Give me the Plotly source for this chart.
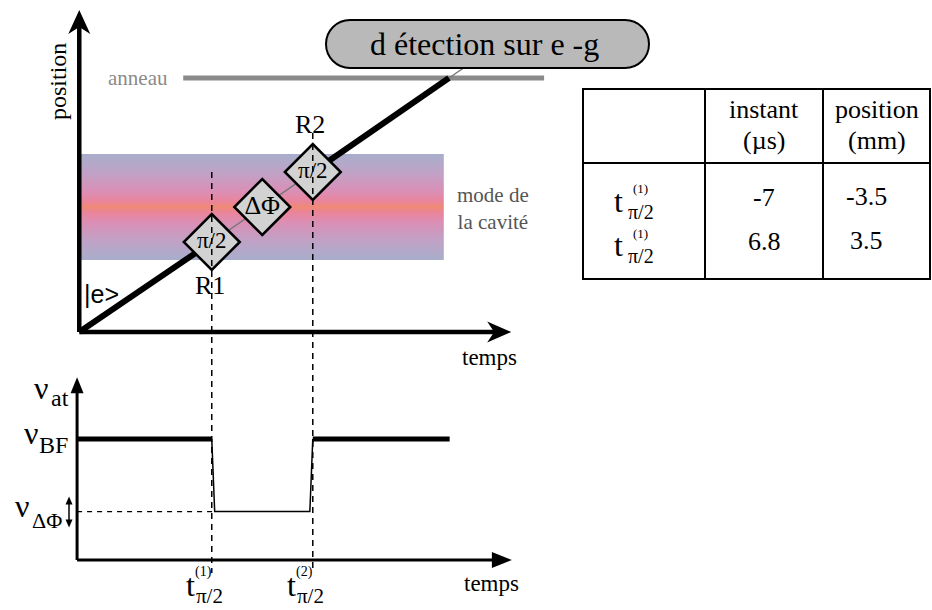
import plotly.graph_objects as go

# ---------------- data ----------------
table_header = ["instant", "position"]
table_units = ["(µs)", "(mm)"]
row_main = ["t", "t"]
row_sup = ["(1)", "(1)"]
row_sub = ["π/2", "π/2"]
pulse_instants = [-7, 6.8]      # µs
pulse_positions = [-3.5, 3.5]   # mm

# atomic trajectory (time in µs, position in mm)
traj_t = [-25.1, -7, 6.8, 25.4, 27.4]
traj_p = [-12.5, -3.5, 3.5, 12.9, 13.9]

# interaction zones
zone_t = [pulse_instants[0], -0.1, pulse_instants[1]]
zone_p = [pulse_positions[0], 0.0, pulse_positions[1]]
zone_text = ["π/2", "ΔΦ", "π/2"]
zone_names = ["R1", "R2"]

ring_t = [-10.9, 38.4]
ring_p = 12.9
cavity_t = [-25.1, 24.7]
cavity_p = [-5.3, 5.3]

axis_top_t = [-25.1, 33.9]
axis_top_p = [-12.5, 19.7]

# atomic frequency vs time (arbitrary units)
nu_t = [-25.4, -7.0, -6.6, 6.4, 6.8, 25.5]
nu_v = [1.0, 1.0, 0.4, 0.4, 1.0, 1.0]
nu_BF = 1.0
nu_DPhi = 0.4
axis_bot_t = [-25.4, 34.0]
axis_bot_v = [0.0, 1.51]

dash_top = [3.5, 7.4]      # start of the dashed guides (mm)
dash_bottom = -36.6

# ---------------- layout helpers ----------------
W, H = 932, 610
SX, X0 = 7.32, 263.0       # px per µs, px of t=0
SY, Y0 = 10.0, 207.0       # px per mm, px of p=0
SV, V0 = 121.0, 560.0      # px per unit of nu, px of nu=0

def tx(px): return (px - X0) / SX
def py(px): return (Y0 - px) / SY
def pv(px): return (V0 - px) / SV
def xpx(t): return X0 + SX * t
def ypx(p): return Y0 - SY * p
def vpx(v): return V0 - SV * v
def fx(px): return px / W
def fy(px): return 1 - px / H

SERIF = "Liberation Serif"

def head(xt, yt, d, L, Wd, N, yinv):
    dx, dy = d
    nx, ny = -dy, dx
    pts = [(xt, yt),
           (xt - L * dx + Wd * nx, yt - L * dy + Wd * ny),
           (xt - N * dx, yt - N * dy),
           (xt - L * dx - Wd * nx, yt - L * dy - Wd * ny)]
    return "M" + " L".join(f"{tx(a):.4f},{yinv(b):.4f}" for a, b in pts) + " Z"

fig = go.Figure()

# cavity mode band with vertical gradient
fig.add_trace(go.Scatter(
    x=[cavity_t[0], cavity_t[1], cavity_t[1], cavity_t[0], cavity_t[0]],
    y=[cavity_p[0], cavity_p[0], cavity_p[1], cavity_p[1], cavity_p[0]],
    mode="lines", fill="toself", line=dict(width=0, color="rgba(0,0,0,0)"),
    fillgradient=dict(type="vertical", colorscale=[
        [0.0, "#a8aecb"], [0.18, "#c0a2c6"], [0.35, "#db8fb6"], [0.45, "#ea849a"],
        [0.5, "#f08a74"], [0.55, "#ea849a"], [0.65, "#db8fb6"], [0.82, "#c0a2c6"],
        [1.0, "#a8aecb"]]),
    hoverinfo="skip", showlegend=False))

# ring line
fig.add_trace(go.Scatter(x=ring_t, y=[ring_p, ring_p], mode="lines",
                         line=dict(color="#8a8a8a", width=5), showlegend=False, hoverinfo="skip"))

# trajectory: thin grey parts and thick black parts
fig.add_trace(go.Scatter(x=[traj_t[1], traj_t[2], None, traj_t[3], traj_t[4]],
                         y=[traj_p[1], traj_p[2], None, traj_p[3], traj_p[4]],
                         mode="lines", line=dict(color="#777777", width=1.5),
                         showlegend=False, hoverinfo="skip"))
fig.add_trace(go.Scatter(x=[traj_t[0], traj_t[1], None, traj_t[2], traj_t[3]],
                         y=[traj_p[0], traj_p[1], None, traj_p[2], traj_p[3]],
                         mode="lines", line=dict(color="black", width=6),
                         showlegend=False, hoverinfo="skip"))

# top axes lines
fig.add_trace(go.Scatter(
    x=[axis_top_t[0], axis_top_t[0], None, axis_top_t[0], tx(xpx(axis_top_t[1]) - 12)],
    y=[py(ypx(axis_top_p[1]) + 12), axis_top_p[0], None, axis_top_p[0], axis_top_p[0]],
    mode="lines", line=dict(color="black", width=4.5), showlegend=False, hoverinfo="skip"))

# zones (diamonds)
fig.add_trace(go.Scatter(x=zone_t, y=zone_p, mode="markers+text",
                         marker=dict(symbol="diamond", size=43, color="#d2d2d2",
                                     line=dict(color="black", width=2.5)),
                         text=zone_text, textposition="middle center",
                         textfont=dict(family=SERIF, size=[23, 26, 23], color="black"),
                         showlegend=False, hoverinfo="skip"))

# dashed vertical guides
fig.add_trace(go.Scatter(
    x=[pulse_instants[0], pulse_instants[0], None, pulse_instants[1], pulse_instants[1]],
    y=[dash_top[0], dash_bottom, None, dash_top[1], dash_bottom],
    mode="lines", line=dict(color="black", width=1.5, dash="6px,5px"),
    showlegend=False, hoverinfo="skip"))

# bottom axes lines
fig.add_trace(go.Scatter(
    x=[axis_bot_t[0], axis_bot_t[0], None, axis_bot_t[0], tx(xpx(axis_bot_t[1]) - 10)],
    y=[pv(vpx(axis_bot_v[1]) + 8), axis_bot_v[0], None, axis_bot_v[0], axis_bot_v[0]],
    yaxis="y2", mode="lines", line=dict(color="black", width=3),
    showlegend=False, hoverinfo="skip"))

# dashed nu_DPhi level
fig.add_trace(go.Scatter(x=[axis_bot_t[0], nu_t[2]], y=[nu_DPhi, nu_DPhi], yaxis="y2",
                         mode="lines", line=dict(color="black", width=1.2, dash="5px,5px"),
                         showlegend=False, hoverinfo="skip"))

# frequency: thin transitions + thick plateaus
fig.add_trace(go.Scatter(x=nu_t[1:5], y=nu_v[1:5], yaxis="y2", mode="lines",
                         line=dict(color="black", width=1.5), showlegend=False, hoverinfo="skip"))
fig.add_trace(go.Scatter(x=[nu_t[0], nu_t[1], None, nu_t[4], nu_t[5]],
                         y=[nu_v[0], nu_v[1], None, nu_v[4], nu_v[5]], yaxis="y2", mode="lines",
                         line=dict(color="black", width=5), showlegend=False, hoverinfo="skip"))

shapes = []
# arrowheads top axes (notched)
shapes.append(dict(type="path", xref="x", yref="y", fillcolor="black", line=dict(width=0),
                   path=head(xpx(axis_top_t[0]), ypx(axis_top_p[1]), (0, -1), 24, 11, 17, py)))
shapes.append(dict(type="path", xref="x", yref="y", fillcolor="black", line=dict(width=0),
                   path=head(xpx(axis_top_t[1]), ypx(axis_top_p[0]), (1, 0), 24, 10.5, 17, py)))
# arrowheads bottom axes (triangles)
shapes.append(dict(type="path", xref="x", yref="y2", fillcolor="black", line=dict(width=0),
                   path=head(xpx(axis_bot_t[0]), vpx(axis_bot_v[1]), (0, -1), 16, 6.5, 16, pv)))
shapes.append(dict(type="path", xref="x", yref="y2", fillcolor="black", line=dict(width=0),
                   path=head(xpx(axis_bot_t[1]), vpx(axis_bot_v[0]), (1, 0), 20, 8, 20, pv)))
# double arrow near nu_DPhi
da_x = 69
shapes.append(dict(type="line", xref="x", yref="y2", x0=tx(da_x), x1=tx(da_x),
                   y0=pv(vpx(nu_DPhi) - 10), y1=pv(vpx(nu_DPhi) + 10), line=dict(color="black", width=1.5)))
shapes.append(dict(type="path", xref="x", yref="y2", fillcolor="black", line=dict(width=0),
                   path=head(da_x, vpx(nu_DPhi) - 15, (0, -1), 8, 3.5, 8, pv)))
shapes.append(dict(type="path", xref="x", yref="y2", fillcolor="black", line=dict(width=0),
                   path=head(da_x, vpx(nu_DPhi) + 16, (0, 1), 8, 3.5, 8, pv)))

# detection bubble (rounded rectangle)
bl, br, bt, bb = 326, 649, 20, 68
r = (bb - bt) / 2
k = 0.5523 * r
cy = (bt + bb) / 2
def P(a, b): return f"{tx(a):.4f},{py(b):.4f}"
bubble = (f"M{P(bl + r, bt)} L{P(br - r, bt)} "
          f"C{P(br - r + k, bt)} {P(br, cy - k)} {P(br, cy)} "
          f"C{P(br, cy + k)} {P(br - r + k, bb)} {P(br - r, bb)} "
          f"L{P(bl + r, bb)} "
          f"C{P(bl + r - k, bb)} {P(bl, cy + k)} {P(bl, cy)} "
          f"C{P(bl, cy - k)} {P(bl + r - k, bt)} {P(bl + r, bt)} Z")
shapes.append(dict(type="path", xref="x", yref="y", path=bubble, fillcolor="#b9b9b9",
                   line=dict(color="black", width=2), layer="above"))

# table
tl, tr, tt, th, tb = 583, 930, 89, 163, 279
cols = [705, 823]
shapes.append(dict(type="rect", xref="paper", yref="paper", x0=fx(tl), x1=fx(tr), y0=fy(tt), y1=fy(tb),
                   line=dict(color="black", width=2)))
shapes.append(dict(type="line", xref="paper", yref="paper", x0=fx(tl), x1=fx(tr), y0=fy(th), y1=fy(th),
                   line=dict(color="black", width=2)))
for c in cols:
    shapes.append(dict(type="line", xref="paper", yref="paper", x0=fx(c), x1=fx(c), y0=fy(tt), y1=fy(tb),
                       line=dict(color="black", width=2)))

ann = []
def A(text, x, y, size, color="black", family=SERIF, xanchor="center", yanchor="middle", angle=0):
    ann.append(dict(text=text, x=fx(x), y=fy(y), xref="paper", yref="paper", showarrow=False,
                    xanchor=xanchor, yanchor=yanchor, textangle=angle,
                    font=dict(family=family, size=size, color=color)))

A("position", 58, 82, 24, angle=-90)
A("anneau", 170, 78, 21, color="#8a8a8a", xanchor="right")
A("mode de<br>la cavité", 455, 208, 21, color="#555555", xanchor="left")
A(zone_names[0], xpx(pulse_instants[0]) - 2, 286, 26)
A(zone_names[1], xpx(pulse_instants[1]) - 3, 124, 26)
A("|e&gt;", 82, 294, 25, family="Liberation Sans", xanchor="left")
A("temps", 460, 357, 23, xanchor="left")
A("d étection sur e -g", (bl + br) / 2 - 3, cy, 32)

# table text
col_c = [(tl + cols[0]) / 2, (cols[0] + cols[1]) / 2, (cols[1] + tr) / 2]
for i in range(2):
    A(table_header[i], col_c[i + 1], 110, 26)
    A(table_units[i], col_c[i + 1], 140, 26)
row_y = [198, 242]
for j in range(2):
    A(str(pulse_instants[j]), col_c[1], row_y[j], 26)
    A(str(pulse_positions[j]), col_c[2] - 10, row_y[j] - 2, 26)
    A(row_main[j], 618, row_y[j] + 3, 32)
    A(row_sup[j], 640, row_y[j] - 9, 13)
    A(row_sub[j], 641, row_y[j] + 14, 20)

# bottom labels
A("ν", 41, 388, 32); A("at", 60, 398, 24)
A("ν", 31, 433, 32); A("BF", 53, 445, 24)
A("ν", 22, 506, 32); A("ΔΦ", 47, 520, 22)
A("temps", 462, 583, 23, xanchor="left")
for j, lab in enumerate(["(1)", "(2)"]):
    xc = xpx(pulse_instants[j])
    A("t", xc - 21, 585, 32)
    A(lab, xc - 8, 572, 14)
    A("π/2", xc - 2, 596, 21)

fig.update_layout(
    width=W, height=H, autosize=False,
    margin=dict(l=0, r=0, t=0, b=0, pad=0),
    paper_bgcolor="white", plot_bgcolor="white",
    xaxis=dict(range=[tx(0), tx(W)], visible=False, fixedrange=True),
    yaxis=dict(range=[py(H), py(0)], visible=False, fixedrange=True),
    yaxis2=dict(range=[pv(H), pv(0)], visible=False, overlaying="y", fixedrange=True),
    shapes=shapes, annotations=ann, showlegend=False,
)

fig.write_html("out.html", config={"displayModeBar": False},
               post_script="document.body.style.margin='0';")
